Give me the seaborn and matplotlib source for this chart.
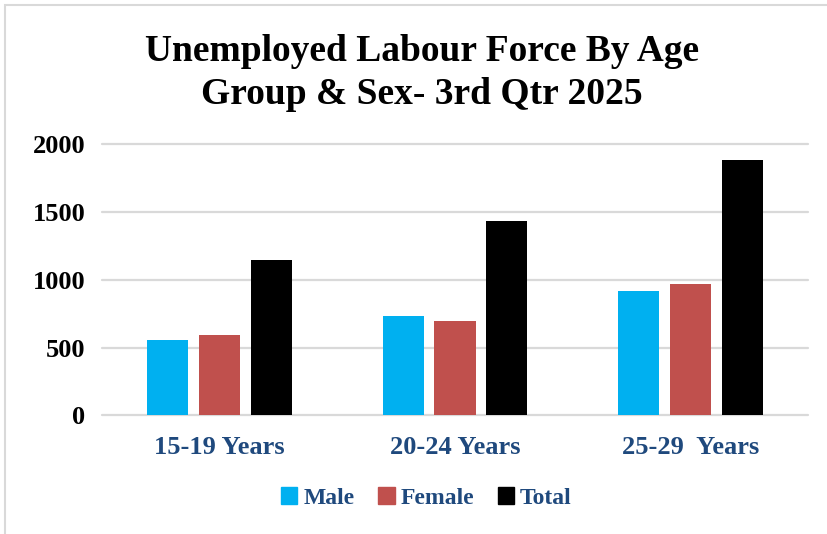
import pandas as pd
import matplotlib.pyplot as plt
import matplotlib.patches as mpatches
import seaborn as sns

# values
age_groups = ['15-19 Years', '20-24 Years', '25-29  Years']
sexes = ['Male', 'Female', 'Total']
male = [553, 732, 914]
female = [590, 698, 970]
total = [1145, 1433, 1885]
colors = ['#00B0F0', '#C0504D', '#000000']
label_color = '#1F497D'

sns.set_theme(style='white')
plt.rcParams['font.family'] = ['Liberation Serif', 'DejaVu Serif']

df = pd.DataFrame({
    'Age': age_groups * 3,
    'Sex': [s for s in sexes for _ in age_groups],
    'Count': male + female + total,
})

fig = plt.figure(figsize=(8.28, 5.34), dpi=100)
ax = fig.add_axes([102 / 828, 1 - 415.3 / 534, (808 - 102) / 828, (415.3 - 144.3) / 534])

sns.barplot(data=df, x='Age', y='Count', hue='Sex', hue_order=sexes,
            palette=colors, saturation=1, width=0.6624, gap=0.21, ax=ax,
            legend=False, edgecolor='none')

ax.set_ylim(0, 2000)
ax.set_xlim(-0.5, 2.5)
ax.set_yticks([0, 500, 1000, 1500, 2000])
ax.yaxis.grid(True, color='#D9D9D9', linewidth=1.6)
for line in ax.get_ygridlines():
    line.set_clip_on(False)
ax.set_axisbelow(True)
for side in ['top', 'right', 'left', 'bottom']:
    ax.spines[side].set_visible(False)
ax.set_xlabel('')
ax.set_ylabel('')
ax.tick_params(axis='y', length=0, pad=12, labelsize=19, labelcolor='black')
ax.tick_params(axis='x', length=0, pad=15, labelsize=19, labelcolor=label_color)
for t in ax.get_yticklabels() + ax.get_xticklabels():
    t.set_fontweight('bold')

fig.text(0.51, 0.863, 'Unemployed Labour Force By Age\nGroup & Sex- 3rd Qtr 2025',
         ha='center', va='center', fontsize=27, fontweight='bold',
         linespacing=1.3, color='black')

handles = [mpatches.Patch(color=c, label=s) for s, c in zip(sexes, colors)]
leg = fig.legend(handles=handles, loc='center', bbox_to_anchor=(0.515, 0.067),
                 ncol=3, frameon=False, handlelength=0.7, handleheight=0.7,
                 handletextpad=0.25, columnspacing=1.0,
                 prop={'size': 17, 'weight': 'bold'})
for t in leg.get_texts():
    t.set_color(label_color)

# chart border (light grey frame, cut on right and bottom)
fig.patches.append(mpatches.Rectangle((5 / 828, -0.1), 1.2, 1 - 5 / 534 + 0.1,
                                      transform=fig.transFigure, fill=False,
                                      edgecolor='#D9D9D9', linewidth=1.5))

fig.savefig('out.png', dpi=100)
